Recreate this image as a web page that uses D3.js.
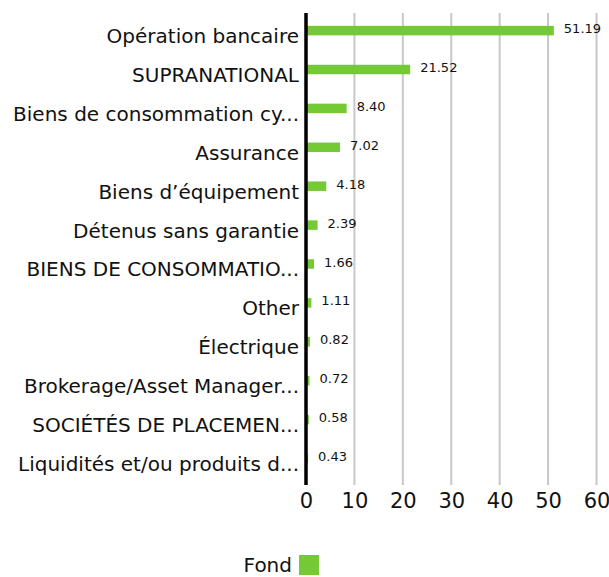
<!DOCTYPE html>
<html>
<head>
<meta charset="utf-8">
<script src="https://cdn.jsdelivr.net/npm/d3@7"></script>
<style>
  body { margin: 0; background: #fff; }
  text { font-family: "DejaVu Sans", sans-serif; fill: #111; }
</style>
</head>
<body>
<svg width="609" height="577"></svg>
<script>
var categories = ["Opération bancaire", "SUPRANATIONAL", "Biens de consommation cy...", "Assurance",
  "Biens d’équipement", "Détenus sans garantie", "BIENS DE CONSOMMATIO...", "Other", "Électrique",
  "Brokerage/Asset Manager...", "SOCIÉTÉS DE PLACEMEN...", "Liquidités et/ou produits d..."];
var values = [51.19, 21.52, 8.40, 7.02, 4.18, 2.39, 1.66, 1.11, 0.82, 0.72, 0.58, 0.43];
var ticks = [0, 10, 20, 30, 40, 50, 60];
var seriesName = "Fond";

var svg = d3.select("svg"),
    color = "#74c935",
    font = "'DejaVu Sans', sans-serif";

var x = d3.scaleLinear().domain([0, 60]).range([306, 596.5]);
var y = d3.scaleBand().domain(categories).range([11.15, 477.95]).paddingInner(0.756).paddingOuter(0.378);

// grid
svg.append("g").selectAll("line")
  .data(ticks.slice(1))
  .enter().append("line")
  .attr("x1", function(d) { return x(d); })
  .attr("x2", function(d) { return x(d); })
  .attr("y1", 13).attr("y2", 485)
  .attr("stroke", "#c8c8c8").attr("stroke-width", 2);

// bars
svg.append("g").selectAll("rect")
  .data(values)
  .enter().append("rect")
  .attr("x", x(0))
  .attr("y", function(d, i) { return y(categories[i]); })
  .attr("width", function(d) { return x(d) - x(0); })
  .attr("height", y.bandwidth())
  .attr("fill", color);

// value labels
svg.append("g").selectAll("text")
  .data(values)
  .enter().append("text")
  .attr("x", function(d) { return x(d) + 10; })
  .attr("y", function(d, i) { return y(categories[i]) + y.bandwidth() / 2 - 1; })
  .attr("dominant-baseline", "middle")
  .style("font-size", "13px")
  .text(function(d) { return d.toFixed(2); });

// category labels
var yAxis = svg.append("g")
  .attr("transform", "translate(299,6)")
  .call(d3.axisLeft(y).tickSize(0).tickPadding(0));
yAxis.select(".domain").remove();
yAxis.selectAll("text").style("font-size", "20px").style("font-family", font).attr("fill", "#111");

// x axis
var xAxis = svg.append("g")
  .attr("transform", "translate(0,491)")
  .call(d3.axisBottom(x).tickValues(ticks).tickSize(0).tickPadding(2).tickFormat(d3.format("d")));
xAxis.select(".domain").remove();
xAxis.selectAll("text").style("font-size", "21px").style("font-family", font).attr("fill", "#111");

// axis line
svg.append("line")
  .attr("x1", x(0)).attr("x2", x(0))
  .attr("y1", 13).attr("y2", 485)
  .attr("stroke", "#000").attr("stroke-width", 3.5);

// legend
var legend = svg.append("g");
legend.append("text")
  .attr("x", 292).attr("y", 566)
  .attr("text-anchor", "end")
  .attr("dominant-baseline", "middle")
  .style("font-size", "20px")
  .text(seriesName);
legend.append("rect")
  .attr("x", 299).attr("y", 555)
  .attr("width", 20).attr("height", 20)
  .attr("fill", color);
</script>
</body>
</html>
